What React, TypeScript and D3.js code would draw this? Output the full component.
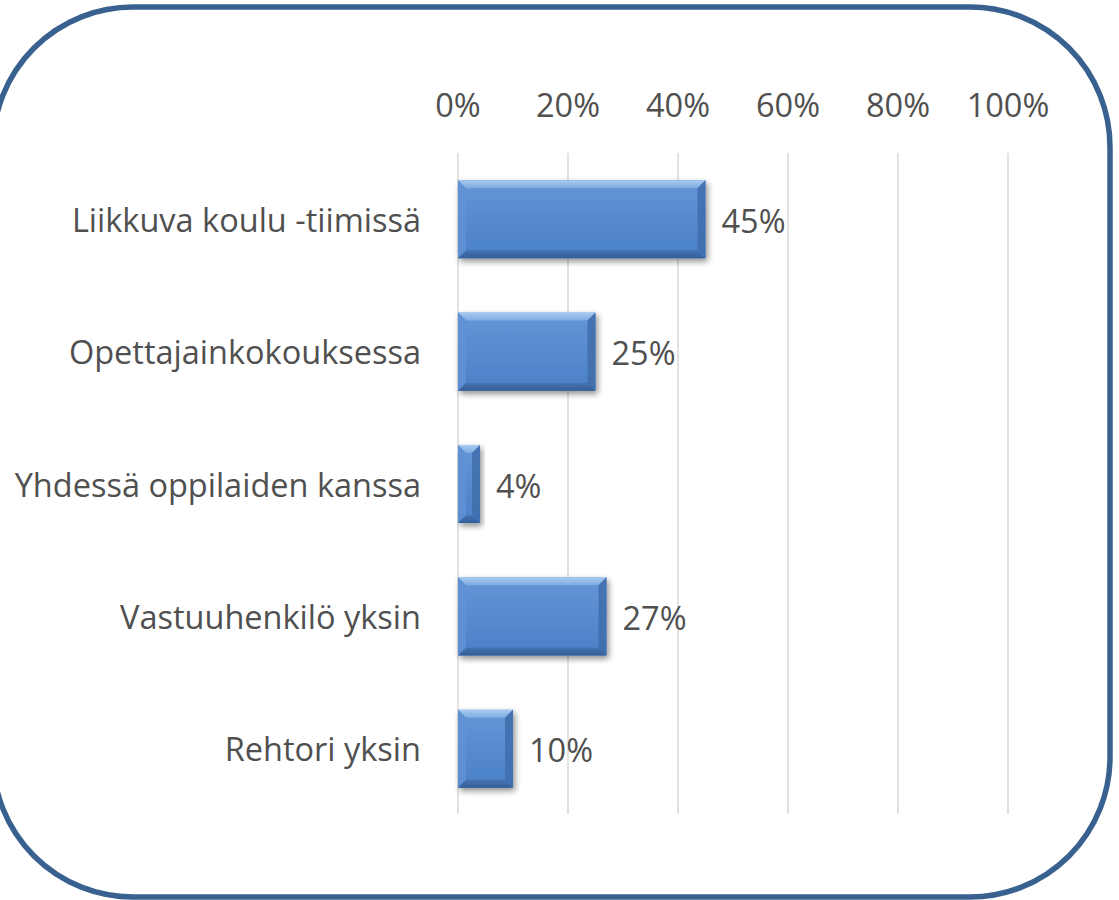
import React from "react";
import * as d3 from "d3";

const categories = [
  "Liikkuva koulu -tiimissä",
  "Opettajainkokouksessa",
  "Yhdessä oppilaiden kanssa",
  "Vastuuhenkilö yksin",
  "Rehtori yksin",
];
const values = [0.45, 0.25, 0.04, 0.27, 0.1];
const valueLabels = ["45%", "25%", "4%", "27%", "10%"];
const ticks = [0, 0.2, 0.4, 0.6, 0.8, 1.0];
const tickLabels = ["0%", "20%", "40%", "60%", "80%", "100%"];

const W = 1119;
const H = 900;
const FONT = "'Open Sans', sans-serif";
const TEXT = "#505050";
const FS = 32.5;

export default function App() {
  const x = d3.scaleLinear().domain([0, 1]).range([458, 1008]);
  const y = d3.scaleBand<string>().domain(categories).range([153, 815]).paddingInner(0.41).paddingOuter(0.205);
  const bw = y.bandwidth();
  const bev = 8;

  return (
    <svg width={W} height={H} style={{ position: "absolute", left: 0, top: 0 }}>
      <defs>
        <linearGradient id="barFill" x1="0" y1="0" x2="0" y2="1">
          <stop offset="0" stopColor="#6496D6" />
          <stop offset="1" stopColor="#4A80C8" />
        </linearGradient>
        <linearGradient id="topBev" x1="0" y1="0" x2="0" y2="1">
          <stop offset="0" stopColor="#A9CBF2" />
          <stop offset="1" stopColor="#7EAAE2" />
        </linearGradient>
        <linearGradient id="botBev" x1="0" y1="0" x2="0" y2="1">
          <stop offset="0" stopColor="#4574B3" />
          <stop offset="1" stopColor="#345D96" />
        </linearGradient>
        <filter id="shadow" x="-10%" y="-20%" width="130%" height="150%">
          <feGaussianBlur in="SourceAlpha" stdDeviation="3" />
          <feOffset dx="2" dy="3" result="b" />
          <feComponentTransfer>
            <feFuncA type="linear" slope="0.45" />
          </feComponentTransfer>
          <feMerge>
            <feMergeNode />
            <feMergeNode in="SourceGraphic" />
          </feMerge>
        </filter>
      </defs>
      <rect width={W} height={H} fill="#fff" />
      {ticks.map((t, i) => (
        <g key={i}>
          <line x1={x(t)} x2={x(t)} y1={153} y2={814} stroke="#D9D9D9" strokeWidth={1.5} />
          <text x={x(t)} y={104} textAnchor="middle" dominantBaseline="central" fontFamily={FONT} fontSize={FS} fill={TEXT}>
            {tickLabels[i]}
          </text>
        </g>
      ))}
      {categories.map((c, i) => {
        const x0 = x(0);
        const x1 = x(values[i]);
        const y0 = y(c)!;
        const y1 = y0 + bw;
        const b = Math.min(bev, (x1 - x0) / 2);
        const cy = y0 + bw / 2;
        return (
          <g key={c}>
            <g filter="url(#shadow)">
              <rect x={x0} y={y0} width={x1 - x0} height={bw} fill="url(#barFill)" />
              <path d={`M${x0},${y0}L${x1},${y0}L${x1 - b},${y0 + bev}L${x0 + b},${y0 + bev}Z`} fill="url(#topBev)" />
              <path d={`M${x0},${y1}L${x1},${y1}L${x1 - b},${y1 - bev}L${x0 + b},${y1 - bev}Z`} fill="url(#botBev)" />
              <path d={`M${x1},${y0}L${x1},${y1}L${x1 - b},${y1 - bev}L${x1 - b},${y0 + bev}Z`} fill="#3F6DAA" opacity={0.85} />
              <path d={`M${x0},${y0}L${x0},${y1}L${x0 + b},${y1 - bev}L${x0 + b},${y0 + bev}Z`} fill="#5F92D4" opacity={0.8} />
            </g>
            <text x={421} y={cy} textAnchor="end" dominantBaseline="central" fontFamily={FONT} fontSize={FS} fill={TEXT}>
              {c}
            </text>
            <text x={x1 + 16} y={cy + 1} textAnchor="start" dominantBaseline="central" fontFamily={FONT} fontSize={FS} fill={TEXT}>
              {valueLabels[i]}
            </text>
          </g>
        );
      })}
      <rect x={-7} y={7} width={1117} height={890} rx={140} ry={140} fill="none" stroke="#38618F" strokeWidth={5.5} />
    </svg>
  );
}
